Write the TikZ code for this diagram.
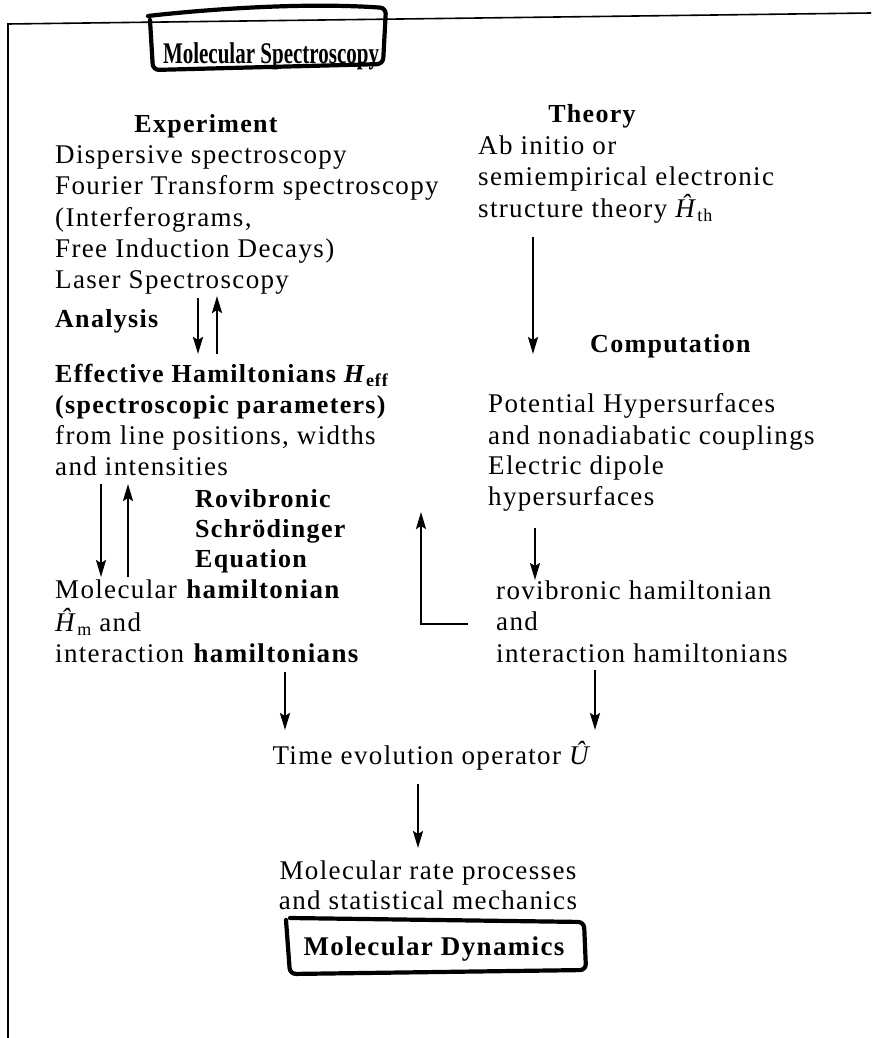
\documentclass[tikz,border=0pt]{standalone}
\usepackage{fontspec}
\setmainfont{Liberation Serif}[LetterSpace=5]
\newfontfamily\titlefont{Liberation Serif}[FakeStretch=0.7]
\usetikzlibrary{arrows.meta}
\newcommand{\sub}[1]{\raisebox{-0.35ex}{\fontsize{18}{18}\selectfont #1}}
\begin{document}
\begin{tikzpicture}[x=1pt,y=-1pt,
  tl/.style={anchor=base west, inner sep=0pt, font=\fontsize{27}{31}\selectfont},
  tc/.style={anchor=base, inner sep=0pt, font=\fontsize{27}{31}\selectfont},
  hd/.style={font=\fontsize{26}{31}\selectfont\bfseries},
  arr/.style={line width=2.2pt, -{Stealth[length=17pt,width=10pt,inset=3pt]}},
  hand/.style={line width=4.2pt, line join=round, line cap=round, rounded corners=6pt}]
\useasboundingbox (0,0) rectangle (871,1038);

% page frame
\draw[line width=1.6pt] (8,1038) -- (8,24) -- (871,13);

% title boxes
\node[tc, font=\fontsize{30}{31}\selectfont\titlefont\bfseries] (spec) at (271,64) {Molecular Spectroscopy};
\draw[hand] (150,20) -- (153,70) -- (383,64) -- (386,8) .. controls (300,2) and (200,10) .. (148,16);

\node[tc, font=\fontsize{27}{31}\selectfont\bfseries] (dyn) at (434,955) {Molecular Dynamics};
\draw[hand] (290,918) -- (584,922) -- (586,970) -- (290,974) -- (286,920);

% experiment column
\node[tc, hd] (exph) at (206,132) {Experiment};
\node[tl] (e1) at (55,163) {Dispersive spectroscopy};
\node[tl] (e2) at (55,194) {Fourier Transform spectroscopy};
\node[tl] (e3) at (55,226) {(Interferograms,};
\node[tl] (e4) at (55,257) {Free Induction Decays)};
\node[tl] (e5) at (55,288) {Laser Spectroscopy};
\node[tl, hd] (ana) at (55,327) {Analysis};
\node[tl, hd] (h1) at (55,382) {Effective Hamiltonians \textit{H}\sub{eff}};
\node[tl, hd] (h2) at (55,413) {(spectroscopic parameters)};
\node[tl] (h3) at (55,444) {from line positions, widths};
\node[tl] (h4) at (55,475) {and intensities};
\node[tl, hd] (r1) at (195,507) {Rovibronic};
\node[tl, hd] (r2) at (195,537) {Schrödinger};
\node[tl, hd] (r3) at (195,567) {Equation};
\node[tl] (m1) at (55,598) {Molecular \textbf{hamiltonian}};
\node[tl] (m2) at (55,631) {\textit{Ĥ}\sub{m} and};
\node[tl] (m3) at (55,662) {interaction \textbf{hamiltonians}};

% theory column
\node[tc, hd] (thh) at (592,122) {Theory};
\node[tl] (t1) at (478,154) {Ab initio or};
\node[tl] (t2) at (478,185) {semiempirical electronic};
\node[tl] (t3) at (478,217) {structure theory \textit{Ĥ}\sub{th}};
\node[tl, hd] (comp) at (590,352) {Computation};
\node[tl] (p1) at (488,412) {Potential Hypersurfaces};
\node[tl] (p2) at (488,444) {and nonadiabatic couplings};
\node[tl] (p3) at (488,474) {Electric dipole};
\node[tl] (p4) at (488,505) {hypersurfaces};
\node[tl] (v1) at (496,599) {rovibronic hamiltonian};
\node[tl] (v2) at (496,630) {and};
\node[tl] (v3) at (496,662) {interaction hamiltonians};

% common part
\node[tc] (tev) at (432,764) {Time evolution operator \textit{Û}};
\node[tc] (rate1) at (428,879) {Molecular rate processes};
\node[tc] (rate2) at (428,909) {and statistical mechanics};

% connector ends
\coordinate (a1s) at (198,298); \coordinate (a1e) at (198,354);
\coordinate (a2s) at (217,354); \coordinate (a2e) at (217,296);
\coordinate (b1s) at (101,484); \coordinate (b1e) at (101,577);
\coordinate (b2s) at (128,577); \coordinate (b2e) at (128,484);
\coordinate (c1s) at (533,237); \coordinate (c1e) at (533,354);
\coordinate (c2s) at (535,528); \coordinate (c2e) at (535,580);
\coordinate (fbs) at (468,624); \coordinate (fbc) at (421,624); \coordinate (fbe) at (421,512);
\coordinate (d1s) at (285,672); \coordinate (d1e) at (285,730);
\coordinate (d2s) at (595,670); \coordinate (d2e) at (595,730);
\coordinate (gs) at (418,784);  \coordinate (ge) at (418,848);

\draw[arr, line width=2.8pt] (a1s) -- (a1e);
\draw[arr, line width=2.8pt] (a2s) -- (a2e);
\draw[arr] (b1s) -- (b1e);
\draw[arr] (b2s) -- (b2e);
\draw[arr] (c1s) -- (c1e);
\draw[arr] (c2s) -- (c2e);
\draw[arr] (fbs) -- (fbc) -- (fbe);
\draw[arr, line width=2.8pt] (d1s) -- (d1e);
\draw[arr] (d2s) -- (d2e);
\draw[arr] (gs) -- (ge);
\end{tikzpicture}
\end{document}
